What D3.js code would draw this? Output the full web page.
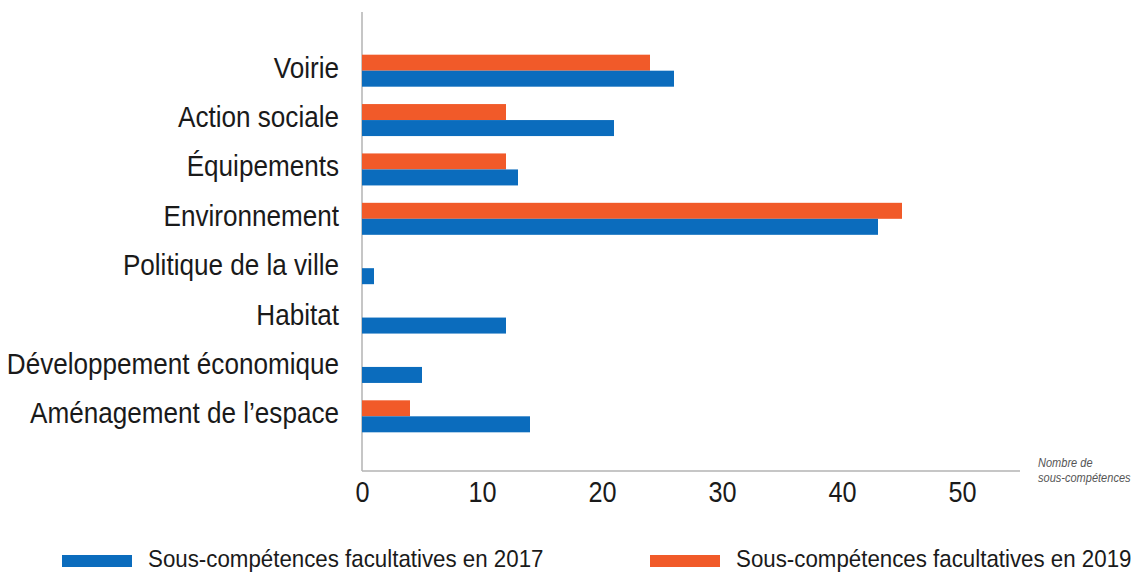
<!DOCTYPE html>
<html>
<head>
<meta charset="utf-8">
<script src="https://cdn.jsdelivr.net/npm/d3@7"></script>
<style>
  body { margin: 0; background: #fff; }
  svg { display: block; font-family: "Liberation Sans", Arial, sans-serif; }
</style>
</head>
<body>
<svg width="1136" height="574"></svg>
<script>
var categories = ["Voirie", "Action sociale", "Équipements", "Environnement",
                  "Politique de la ville", "Habitat", "Développement économique",
                  "Aménagement de l\u2019espace"];
var values2017 = [26, 21, 13, 43, 1, 12, 5, 14];
var values2019 = [24, 12, 12, 45, 0, 0, 0, 4];
var tickValues = [0, 10, 20, 30, 40, 50];
var seriesNames = ["Sous-compétences facultatives en 2017", "Sous-compétences facultatives en 2019"];

var svg = d3.select("svg"),
    width = +svg.attr("width"),
    height = +svg.attr("height");

var blue = "#0b6cbd", orange = "#f15a29";
var narrow = 0.87; // condensed look, squeeze text horizontally

var x = d3.scaleLinear()
    .domain([0, 55])
    .range([362, 1022]);

var y = d3.scaleBand()
    .domain(categories)
    .range([46, 441]);

var barH = 16;

// axis lines
svg.append("line")
    .attr("x1", x(0)).attr("x2", x(0))
    .attr("y1", 12).attr("y2", 471)
    .attr("stroke", "#b3b3b3").attr("stroke-width", 1.5);
svg.append("line")
    .attr("x1", x(0)).attr("x2", 1020)
    .attr("y1", 471).attr("y2", 471)
    .attr("stroke", "#b3b3b3").attr("stroke-width", 1.5);

// bars 2019 (top) and 2017 (bottom)
svg.append("g").selectAll("rect")
    .data(categories)
    .enter().append("rect")
    .attr("x", x(0))
    .attr("y", function(d) { return y(d) + y.bandwidth() / 2 - barH; })
    .attr("width", function(d, i) { return x(values2019[i]) - x(0); })
    .attr("height", barH)
    .attr("fill", orange);

svg.append("g").selectAll("rect")
    .data(categories)
    .enter().append("rect")
    .attr("x", x(0))
    .attr("y", function(d) { return y(d) + y.bandwidth() / 2; })
    .attr("width", function(d, i) { return x(values2017[i]) - x(0); })
    .attr("height", barH)
    .attr("fill", blue);

// category labels
svg.append("g").selectAll("text")
    .data(categories)
    .enter().append("text")
    .attr("transform", function(d) {
        return "translate(339," + (y(d) + y.bandwidth() / 2 + 7) + ") scale(" + narrow + ",1)";
    })
    .attr("text-anchor", "end")
    .attr("font-size", 30)
    .attr("fill", "#1a1a1a")
    .text(function(d) { return d; });

// x axis tick labels
var xAxis = svg.append("g")
    .attr("transform", "translate(0,471)")
    .call(d3.axisBottom(x).tickValues(tickValues).tickSize(0).tickPadding(0));
xAxis.select(".domain").remove();
xAxis.selectAll("text")
    .attr("font-family", "Liberation Sans, Arial, sans-serif")
    .attr("font-size", 29)
    .attr("fill", "#1a1a1a")
    .attr("y", 0)
    .attr("dy", 0)
    .attr("transform", "translate(0,31) scale(" + narrow + ",1)");

// axis title
var title = svg.append("text")
    .attr("transform", "translate(1038,0) scale(0.92,1)")
    .attr("font-size", 12)
    .attr("font-style", "italic")
    .attr("fill", "#555");
title.append("tspan").attr("x", 0).attr("y", 467).text("Nombre de");
title.append("tspan").attr("x", 0).attr("y", 482).text("sous-compétences");

// legend
var legend = svg.append("g").selectAll("g")
    .data(seriesNames)
    .enter().append("g")
    .attr("transform", function(d, i) { return "translate(" + (i ? 650 : 62) + ",555)"; });
legend.append("rect")
    .attr("width", 70).attr("height", 12)
    .attr("fill", function(d, i) { return i ? orange : blue; });
legend.append("text")
    .attr("transform", "translate(86,12) scale(0.93,1)")
    .attr("font-size", 24)
    .attr("fill", "#1a1a1a")
    .text(function(d) { return d; });
</script>
</body>
</html>
